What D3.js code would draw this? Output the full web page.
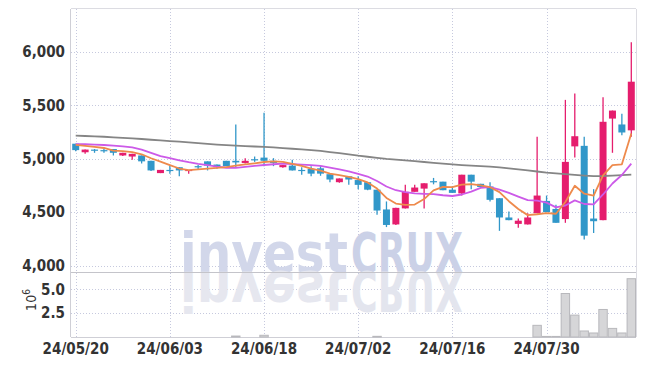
<!DOCTYPE html>
<html>
<head>
<meta charset="utf-8">
<script src="https://cdn.jsdelivr.net/npm/d3@7"></script>
<style>
  html, body { margin: 0; padding: 0; background: #fff; }
  svg { display: block; }
</style>
</head>
<body>
<svg id="chart" width="645" height="366"></svg>
<script>
// ── Data ──────────────────────────────────────────────
const dates = [
  '24/05/20','24/05/21','24/05/22','24/05/23','24/05/24','24/05/27','24/05/28','24/05/29','24/05/30','24/05/31',
  '24/06/03','24/06/04','24/06/05','24/06/07','24/06/10','24/06/11','24/06/12','24/06/13','24/06/14','24/06/17',
  '24/06/18','24/06/19','24/06/20','24/06/21','24/06/24','24/06/25','24/06/26','24/06/27','24/06/28','24/07/01',
  '24/07/02','24/07/03','24/07/04','24/07/05','24/07/08','24/07/09','24/07/10','24/07/11','24/07/12','24/07/15',
  '24/07/16','24/07/17','24/07/18','24/07/19','24/07/22','24/07/23','24/07/24','24/07/25','24/07/26','24/07/29',
  '24/07/30','24/07/31','24/08/01','24/08/02','24/08/05','24/08/06','24/08/07','24/08/08','24/08/09','24/08/12'
];
const open  = [5140,5060,5085,5080,5090,5030,5020,5030,4980,4865, 4895,4920,4885,4930,4975,4945,4980,4980,4960,4995,
               5010,4980,4920,4935,4895,4905,4910,4855,4780,4835, 4800,4780,4710,4525,4385,4535,4690,4720,4790,4785,
               4710,4675,4850,4765,4740,4630,4450,4390,4385,4490, 4605,4530,4435,5115,5120,4440,4425,5375,5320,5265];
const high  = [5140,5085,5090,5090,5090,5055,5045,5030,4980,4895, 4935,4920,4895,4940,4975,4945,4980,5320,5005,5020,
               5430,5005,4940,4990,4920,4930,4930,4855,4815,4835, 4835,4780,4710,4600,4540,4755,4755,4770,4820,4785,
               4740,4850,4850,4765,4780,4630,4505,4440,4490,5205, 4655,4570,5550,5610,5205,4715,5575,5450,5420,6090];
const low   = [5070,5045,5055,5055,5030,5025,4990,4955,4885,4865, 4860,4835,4860,4895,4890,4905,4930,4915,4955,4970,
               4930,4930,4915,4890,4850,4835,4840,4780,4775,4755, 4715,4705,4475,4360,4380,4535,4690,4535,4760,4705,
               4680,4655,4715,4735,4600,4325,4425,4355,4385,4490, 4500,4400,4400,5010,4245,4305,4425,5055,5220,5205];
const close = [5080,5085,5080,5075,5055,5055,5045,4975,4890,4895, 4890,4890,4895,4925,4935,4920,4930,4965,4980,4990,
               4980,4960,4940,4890,4890,4860,4860,4805,4815,4805, 4755,4710,4515,4380,4540,4690,4730,4770,4785,4705,
               4680,4850,4785,4735,4615,4450,4425,4420,4450,4655, 4500,4400,4970,5210,4280,4415,5345,5450,5245,5720];
const volume = [0,0,0,0,0,0,0,0,0,0, 0,0,0,0,0,0,0,100000,0,0,
                180000,0,0,0,0,0,0,0,0,0, 0,0,70000,0,0,0,0,0,0,0,
                0,0,0,0,0,0,0,0,0,1220000, 60000,60000,4550000,2290000,630000,420000,2880000,900000,420000,6100000];

// moving averages
const ma5  = [5130,5120,5110,5100,5075,5070,5062,5041,5004,4972, 4939,4908,4892,4899,4907,4913,4921,4935,4946,4957,
              4969,4975,4970,4952,4932,4908,4888,4861,4846,4829, 4808,4778,4720,4633,4580,4567,4571,4622,4703,4736,
              4734,4758,4761,4751,4733,4687,4602,4529,4472,4480, 4490,4485,4595,4747,4672,4655,4844,4940,4947,5235];
const ma10 = [5135,5135,5132,5128,5122,5115,5105,5085,5055,5024, 5005,4985,4967,4952,4940,4926,4915,4914,4923,4932,
              4941,4948,4953,4949,4945,4939,4932,4916,4899,4881, 4858,4833,4791,4740,4705,4688,4675,4671,4668,4658,
              4651,4665,4692,4727,4735,4711,4680,4645,4612,4607, 4589,4544,4562,4610,4576,4573,4665,4768,4847,4954];
const ma60 = [5215,5212,5209,5205,5200,5195,5190,5184,5177,5171, 5165,5159,5152,5145,5138,5132,5127,5122,5118,5114,
              5110,5105,5099,5093,5087,5080,5072,5062,5052,5040, 5028,5018,5008,4999,4992,4985,4977,4969,4961,4953,
              4946,4940,4935,4930,4925,4918,4910,4900,4890,4880, 4870,4862,4855,4848,4842,4836,4838,4842,4846,4850];

const priceTicks = [4000, 4500, 5000, 5500, 6000];
const volTicks   = [2500000, 5000000];
const dateTicks  = [dates[0], dates[10], dates[20], dates[30], dates[40], dates[50]];

// ── Layout ────────────────────────────────────────────
const L = 71, R = 636, TOP = 9, SEP = 272, BOT = 337;
const UP = '#e51d6d', DOWN = '#3197c9';
const FONT = '"Liberation Sans Narrow", "DejaVu Sans Condensed", sans-serif';

const svg = d3.select('#chart');

const x  = d3.scaleBand().domain(dates).range([L, R]).padding(0);
const y  = d3.scaleLinear().domain([3940, 6400]).range([SEP, TOP]);
const yv = d3.scaleLinear().domain([0, 6800000]).range([BOT, SEP]);
const cx = d => x(d) + x.bandwidth() / 2;

// ── Grid ──────────────────────────────────────────────
const grid = svg.append('g')
  .attr('stroke', '#c6c9de').attr('stroke-width', 1).attr('stroke-dasharray', '1 2');

grid.selectAll('.hg').data(priceTicks).join('line')
  .attr('x1', L).attr('x2', R)
  .attr('y1', d => Math.round(y(d)) + 0.5).attr('y2', d => Math.round(y(d)) + 0.5);

grid.selectAll('.vg').data(volTicks).join('line')
  .attr('x1', L).attr('x2', R)
  .attr('y1', d => Math.round(yv(d)) + 0.5).attr('y2', d => Math.round(yv(d)) + 0.5);

grid.selectAll('.xg').data(dateTicks).join('line')
  .attr('x1', d => Math.round(cx(d)) + 0.5).attr('x2', d => Math.round(cx(d)) + 0.5)
  .attr('y1', TOP).attr('y2', BOT);

// ── Watermark (with mirrored reflection) ──────────────
const wm = svg.append('g')
  .attr('font-family', '"DejaVu Sans", sans-serif').attr('font-size', 55).attr('font-weight', 'bold');
function mark(g, fillA, fillB) {
  g.append('text')
    .attr('x', 180).attr('y', SEP)
    .attr('textLength', 168).attr('lengthAdjust', 'spacingAndGlyphs')
    .attr('fill', fillA).text('invest');
  g.append('text')
    .attr('x', 351).attr('y', SEP)
    .attr('textLength', 112).attr('lengthAdjust', 'spacingAndGlyphs')
    .attr('fill', fillB).text('CRUX');
}
mark(wm, '#d2d7ea', '#cbd1e7');
mark(wm.append('g').attr('transform', `translate(0,${2 * SEP}) scale(1,-1)`), '#e6e7ef', '#e3e5ee');

// ── Frame ─────────────────────────────────────────────
const frame = svg.append('g').attr('fill', 'none').attr('stroke-width', 1);
frame.append('line').attr('x1', L - 0.5).attr('x2', L - 0.5).attr('y1', TOP).attr('y2', BOT).attr('stroke', '#cfcfd6');
frame.append('line').attr('x1', R + 0.5).attr('x2', R + 0.5).attr('y1', TOP).attr('y2', BOT).attr('stroke', '#dcdce2');
frame.append('line').attr('x1', L).attr('x2', R).attr('y1', TOP - 0.5).attr('y2', TOP - 0.5).attr('stroke', '#dcdce2');
frame.append('line').attr('x1', L).attr('x2', R).attr('y1', SEP + 0.5).attr('y2', SEP + 0.5).attr('stroke', '#c4c4ca');
frame.append('line').attr('x1', L).attr('x2', R).attr('y1', BOT + 0.5).attr('y2', BOT + 0.5).attr('stroke', '#cfcfd6');

// ── Volume bars ───────────────────────────────────────
svg.append('g').selectAll('rect')
  .data(dates.map((d, i) => ({ d, v: volume[i] })).filter(e => e.v > 0))
  .join('rect')
    .attr('x', e => x(e.d) + 0.5)
    .attr('width', x.bandwidth() - 1)
    .attr('y', e => yv(e.v))
    .attr('height', e => BOT - yv(e.v))
    .attr('fill', '#d6d6d8')
    .attr('stroke', '#b8b8bc')
    .attr('stroke-width', 1);

// ── Candles ───────────────────────────────────────────
const candles = dates.map((d, i) => ({ d, o: open[i], h: high[i], l: low[i], c: close[i] }));
const bw = 7;
const cg = svg.append('g');
cg.selectAll('.wick').data(candles).join('line')
  .attr('x1', e => cx(e.d)).attr('x2', e => cx(e.d))
  .attr('y1', e => y(e.h)).attr('y2', e => y(e.l))
  .attr('stroke', e => e.c >= e.o ? UP : DOWN).attr('stroke-width', 1.3);
cg.selectAll('.body').data(candles).join('rect')
  .attr('x', e => cx(e.d) - bw / 2)
  .attr('width', bw)
  .attr('y', e => y(Math.max(e.o, e.c)))
  .attr('height', e => Math.max(1.2, Math.abs(y(e.o) - y(e.c))))
  .attr('fill', e => e.c >= e.o ? UP : DOWN);

// ── Moving averages ───────────────────────────────────
const line = d3.line().x((v, i) => cx(dates[i])).y(v => y(v));
[[ma60, '#858585', 1.8], [ma10, '#cc5ae8', 1.8], [ma5, '#ee8a4c', 1.8]].forEach(([s, col, w]) => {
  svg.append('path').attr('d', line(s))
    .attr('fill', 'none').attr('stroke', col).attr('stroke-width', w)
    .attr('stroke-linejoin', 'round');
});

// ── Axes ──────────────────────────────────────────────
const axisStyle = sel => sel
  .call(ax => ax.select('.domain').remove())
  .call(ax => ax.selectAll('text')
    .attr('fill', '#333').attr('font-size', 15).attr('font-weight', 'bold')
    .attr('font-family', FONT));

svg.append('g')
  .attr('transform', `translate(${L},0)`)
  .call(d3.axisLeft(y).tickValues(priceTicks).tickFormat(d3.format(',')).tickSize(0).tickPadding(6))
  .call(axisStyle);

svg.append('g')
  .attr('transform', `translate(${L},0)`)
  .call(d3.axisLeft(yv).tickValues(volTicks).tickFormat(d => (d / 1e6).toFixed(1)).tickSize(0).tickPadding(6))
  .call(axisStyle);

svg.append('g')
  .attr('transform', `translate(0,${BOT})`)
  .call(d3.axisBottom(x).tickValues(dateTicks).tickSize(0).tickPadding(6))
  .call(axisStyle);

// 10^6 unit label
const unit = svg.append('text')
  .attr('transform', 'translate(36,300) rotate(-90)')
  .attr('text-anchor', 'middle')
  .attr('fill', '#333').attr('font-size', 14)
  .attr('font-family', FONT);
unit.append('tspan').text('10');
unit.append('tspan').attr('dy', -6).attr('font-size', 10).text('6');
</script>
</body>
</html>
